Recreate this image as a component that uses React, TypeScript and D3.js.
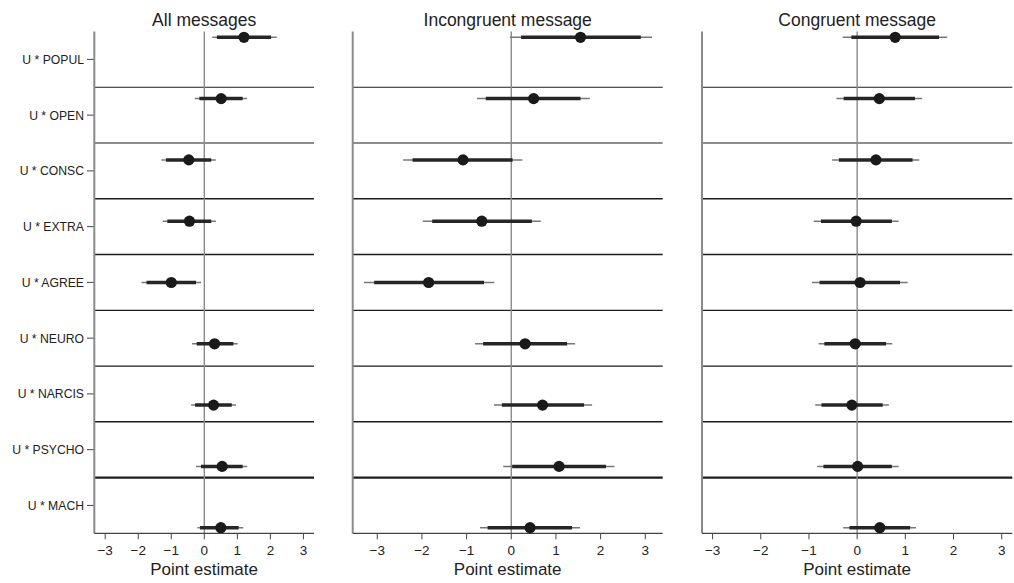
import React from 'react'
import * as d3 from 'd3'

// interaction terms, top to bottom
const terms = ['U * POPUL', 'U * OPEN', 'U * CONSC', 'U * EXTRA', 'U * AGREE', 'U * NEURO', 'U * NARCIS', 'U * PSYCHO', 'U * MACH']
const panelTitles = ['All messages', 'Incongruent message', 'Congruent message']
const xTicks = [-3, -2, -1, 0, 1, 2, 3]

// point estimates per panel
const estAll = [1.2, 0.51, -0.47, -0.45, -1.0, 0.31, 0.28, 0.54, 0.5]
const estIncong = [1.55, 0.5, -1.08, -0.66, -1.85, 0.31, 0.7, 1.07, 0.42]
const estCong = [0.79, 0.46, 0.39, -0.02, 0.06, -0.04, -0.11, 0.01, 0.47]

// inner (thick) interval
const loInAll = [0.38, -0.15, -1.16, -1.12, -1.75, -0.23, -0.28, -0.1, -0.13]
const hiInAll = [2.02, 1.16, 0.21, 0.21, -0.25, 0.88, 0.83, 1.16, 1.04]
const loInIncong = [0.22, -0.57, -2.21, -1.77, -3.07, -0.63, -0.21, 0.02, -0.53]
const hiInIncong = [2.9, 1.55, 0.03, 0.46, -0.61, 1.25, 1.63, 2.12, 1.36]
const loInCong = [-0.12, -0.28, -0.38, -0.75, -0.78, -0.68, -0.74, -0.7, -0.16]
const hiInCong = [1.7, 1.2, 1.15, 0.72, 0.89, 0.6, 0.53, 0.72, 1.1]

// outer (thin) interval
const loOutAll = [0.24, -0.29, -1.3, -1.26, -1.9, -0.37, -0.4, -0.25, -0.21]
const hiOutAll = [2.19, 1.29, 0.35, 0.35, -0.1, 1.01, 0.96, 1.3, 1.18]
const loOutIncong = [-0.03, -0.77, -2.42, -1.98, -3.3, -0.81, -0.39, -0.18, -0.7]
const hiOutIncong = [3.15, 1.76, 0.25, 0.66, -0.38, 1.43, 1.81, 2.31, 1.54]
const loOutCong = [-0.3, -0.43, -0.52, -0.9, -0.94, -0.8, -0.87, -0.83, -0.29]
const hiOutCong = [1.87, 1.35, 1.29, 0.86, 1.05, 0.73, 0.66, 0.86, 1.22]

const panels = [
  {title: panelTitles[0], est: estAll, loIn: loInAll, hiIn: hiInAll, loOut: loOutAll, hiOut: hiOutAll,
    domain: [-3.33, 3.32], range: [94.3, 314]},
  {title: panelTitles[1], est: estIncong, loIn: loInIncong, hiIn: hiInIncong, loOut: loOutIncong, hiOut: hiOutIncong,
    domain: [-3.55, 3.39], range: [352.7, 662.7]},
  {title: panelTitles[2], est: estCong, loIn: loInCong, hiIn: hiInCong, loOut: loOutCong, hiOut: hiOutCong,
    domain: [-3.22, 3.22], range: [702, 1012.3]},
]

const top = 31.5
const bottom = 533.3
const sepWidths = [1.2, 1.2, 1.6, 1.6, 1.2, 1.2, 1.4, 2.2]
const font = 'Liberation Sans, Arial, Helvetica, sans-serif'

const App = () => {
  const yBand = d3.scaleBand().domain(terms).range([top, bottom]).padding(0)
  const yPt = d3.scalePoint().domain(terms).range([37.3, 527.7])
  const fmt = (v) => (v < 0 ? '\u2212' + Math.abs(v) : String(v))

  return (
    <svg width={1014} height={583} style={{position: 'absolute', left: 0, top: 0, background: '#fff'}}>
      {/* row labels on first panel */}
      {terms.map((t) => {
        const y = yBand(t) + yBand.bandwidth() / 2
        return (
          <g key={t}>
            <line x1={87} x2={94.3} y1={y} y2={y} stroke="#444" strokeWidth={1}/>
            <text x={84} y={y} dy="0.36em" textAnchor="end" fontFamily={font} fontSize={12.2} fill="#222">{t}</text>
          </g>
        )
      })}

      {panels.map((p, pi) => {
        const x = d3.scaleLinear().domain(p.domain).range(p.range)
        const cx = (p.range[0] + p.range[1]) / 2
        return (
          <g key={pi}>
            <text x={cx} y={25.5} textAnchor="middle" fontFamily={font} fontSize={17.5} fill="#222">{p.title}</text>

            {/* row separators */}
            {terms.slice(1).map((t, i) => (
              <line key={t} x1={p.range[0]} x2={p.range[1]} y1={yBand(t)} y2={yBand(t)}
                stroke="#1c1c1c" strokeWidth={sepWidths[i]}/>
            ))}

            {/* zero reference */}
            <line x1={x(0)} x2={x(0)} y1={top} y2={bottom} stroke="#8a8a8a" strokeWidth={1.4}/>

            {/* left axis */}
            <line x1={p.range[0]} x2={p.range[0]} y1={top} y2={bottom} stroke="#8a8a8a" strokeWidth={2}/>

            {/* bottom axis */}
            <line x1={p.range[0]} x2={p.range[1]} y1={bottom} y2={bottom} stroke="#444" strokeWidth={1.2}/>
            {xTicks.map((v) => (
              <g key={v}>
                <line x1={x(v)} x2={x(v)} y1={bottom} y2={bottom + 6} stroke="#444" strokeWidth={1}/>
                <text x={x(v)} y={555} textAnchor="middle" fontFamily={font} fontSize={13.5} fill="#222">{fmt(v)}</text>
              </g>
            ))}
            <text x={cx} y={575} textAnchor="middle" fontFamily={font} fontSize={17} fill="#222">Point estimate</text>

            {/* estimates */}
            {terms.map((t, i) => {
              const y = yPt(t)
              return (
                <g key={t}>
                  <line x1={x(p.loOut[i])} x2={x(p.hiOut[i])} y1={y} y2={y} stroke="#777" strokeWidth={1.5}/>
                  <line x1={x(p.loIn[i])} x2={x(p.hiIn[i])} y1={y} y2={y} stroke="#262626" strokeWidth={3.5}/>
                  <circle cx={x(p.est[i])} cy={y} r={5.6} fill="#1a1a1a"/>
                </g>
              )
            })}
          </g>
        )
      })}
    </svg>
  )
}

export default App
